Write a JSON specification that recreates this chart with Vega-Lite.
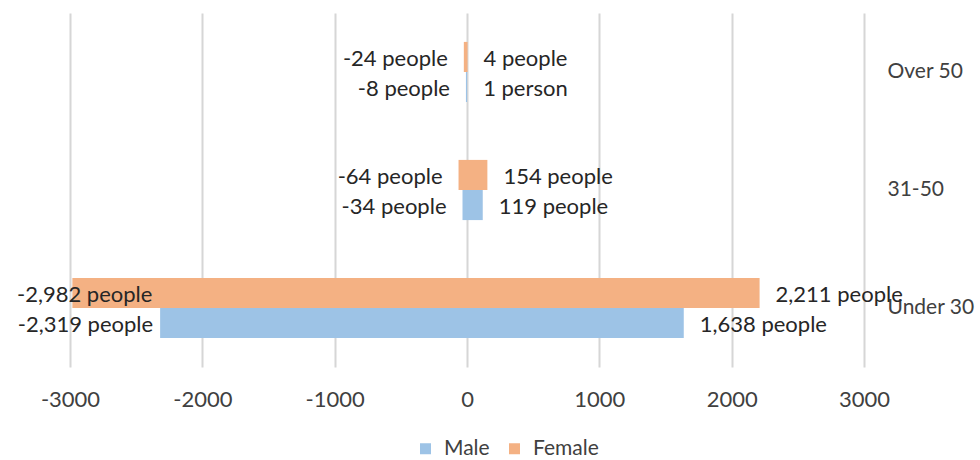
{
  "$schema": "https://vega.github.io/schema/vega-lite/v6.json",
  "autosize": {"type": "none"},
  "width": 794,
  "height": 354,
  "padding": {"left": 70, "top": 13, "right": 116, "bottom": 93},
  "background": "white",
  "config": {
    "font": "Lato",
    "view": {"stroke": null}
  },
  "data": {
    "values": [
      {"age": "Over 50", "gender": "Female", "value": -24, "label": "-24 people"},
      {"age": "Over 50", "gender": "Female", "value": 4, "label": "4 people"},
      {"age": "Over 50", "gender": "Male", "value": -8, "label": "-8 people"},
      {"age": "Over 50", "gender": "Male", "value": 1, "label": "1 person"},
      {"age": "31-50", "gender": "Female", "value": -64, "label": "-64 people"},
      {"age": "31-50", "gender": "Female", "value": 154, "label": "154 people"},
      {"age": "31-50", "gender": "Male", "value": -34, "label": "-34 people"},
      {"age": "31-50", "gender": "Male", "value": 119, "label": "119 people"},
      {"age": "Under 30", "gender": "Female", "value": -2982, "label": "-2,982 people"},
      {"age": "Under 30", "gender": "Female", "value": 2211, "label": "2,211 people"},
      {"age": "Under 30", "gender": "Male", "value": -2319, "label": "-2,319 people"},
      {"age": "Under 30", "gender": "Male", "value": 1638, "label": "1,638 people"}
    ]
  },
  "encoding": {
    "y": {
      "field": "age",
      "type": "nominal",
      "sort": ["Over 50", "31-50", "Under 30"],
      "scale": {"paddingInner": 0.49, "paddingOuter": 0.245},
      "axis": {
        "orient": "right",
        "title": null,
        "domain": false,
        "ticks": false,
        "grid": false,
        "labelPadding": 23,
        "labelFontSize": 21,
        "labelColor": "#404040",
        "labelFont": "Lato"
      }
    },
    "yOffset": {
      "field": "gender",
      "type": "nominal",
      "sort": ["Female", "Male"],
      "scale": {"domain": ["Female", "Male"], "paddingInner": 0, "paddingOuter": 0}
    }
  },
  "layer": [
    {
      "mark": {"type": "bar"},
      "encoding": {
        "x": {
          "field": "value",
          "type": "quantitative",
          "stack": null,
          "scale": {"domain": [-3000, 3000], "nice": false},
          "axis": {
            "title": null,
            "values": [-3000, -2000, -1000, 0, 1000, 2000, 3000],
            "labelExpr": "toString(datum.value)",
            "labelFlush": false,
            "labelOverlap": false,
            "grid": true,
            "gridColor": "#D6D6D6",
            "gridWidth": 2,
            "domain": false,
            "ticks": false,
            "labelPadding": 22,
            "labelFontSize": 22,
            "labelColor": "#404040",
            "labelFont": "Lato"
          }
        },
        "color": {
          "field": "gender",
          "type": "nominal",
          "scale": {"domain": ["Male", "Female"], "range": ["#9DC3E6", "#F4B183"]},
          "legend": {
            "title": null,
            "orient": "none",
            "direction": "horizontal",
            "legendX": 345,
            "legendY": 425,
            "symbolType": "square",
            "symbolSize": 121,
            "symbolStrokeWidth": 0,
            "labelFontSize": 21,
            "labelColor": "#404040",
            "labelFont": "Lato",
            "labelOffset": 8,
            "columnPadding": 14
          }
        }
      }
    },
    {
      "mark": {"type": "rule", "color": "#D6D6D6", "strokeWidth": 2},
      "encoding": {"x": {"datum": 0}}
    },
    {
      "transform": [{"filter": "datum.value > 0"}],
      "mark": {"type": "text", "align": "left", "baseline": "middle", "dx": 16, "dy": 2, "fontSize": 22, "color": "#262626"},
      "encoding": {
        "x": {"field": "value", "type": "quantitative"},
        "text": {"field": "label"}
      }
    },
    {
      "transform": [{"filter": "datum.value < 0 && datum.value > -2000"}],
      "mark": {"type": "text", "align": "right", "baseline": "middle", "dx": -16, "dy": 2, "fontSize": 22, "color": "#262626"},
      "encoding": {
        "x": {"field": "value", "type": "quantitative"},
        "text": {"field": "label"}
      }
    },
    {
      "transform": [{"filter": "datum.value == -2319"}],
      "mark": {"type": "text", "align": "right", "baseline": "middle", "dx": -7, "dy": 2, "fontSize": 22, "color": "#262626"},
      "encoding": {
        "x": {"field": "value", "type": "quantitative"},
        "text": {"field": "label"}
      }
    },
    {
      "transform": [{"filter": "datum.value == -2982"}],
      "mark": {"type": "text", "align": "right", "baseline": "middle", "dx": 80, "dy": 2, "fontSize": 22, "color": "#262626"},
      "encoding": {
        "x": {"field": "value", "type": "quantitative"},
        "text": {"field": "label"}
      }
    }
  ]
}
